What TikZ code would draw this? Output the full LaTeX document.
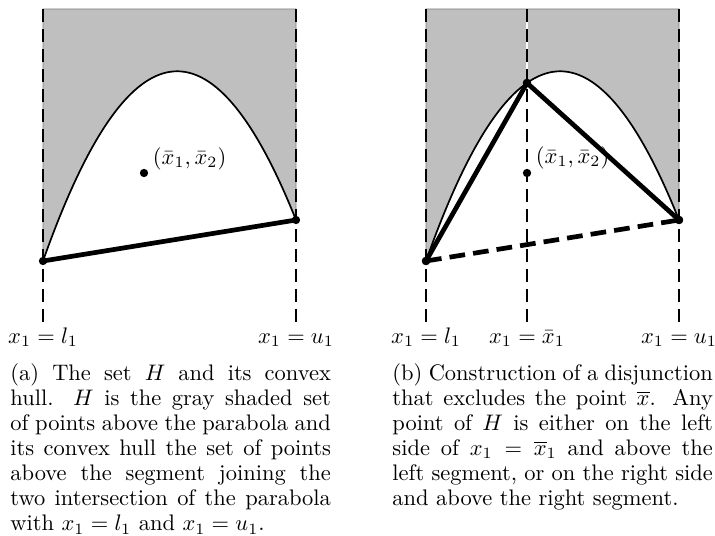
\documentclass[tikz,border=0pt]{standalone}

\tikzset{
  hull/.style={fill=gray!50, draw=gray, line width=0.4pt},
  bound/.style={line width=0.85pt, dash pattern=on 5.8pt off 3.1pt},
  parab/.style={line width=0.75pt},
  seg/.style={line width=2.1pt},
  ptdot/.style={circle, fill, inner sep=0pt, minimum size=3.7pt},
  capt/.style={anchor=north west, inner sep=0pt, text width=142.6pt, align=justify,
    font=\fontsize{10}{11.15}\selectfont},
}

\begin{document}
\begin{tikzpicture}[x=0.445pt, y=0.445pt]
    \useasboundingbox (0, 0) rectangle (715, 535);

    % (a) the set H and its hull
        \filldraw[hull] (43, 274) -- (43, 526) -- (296, 526) -- (296, 315)
            .. controls (211.67, 526.13) and (127.33, 512.47) .. (43, 274) -- cycle;
        \coordinate (ta) at (43, 526);
        \coordinate (ba) at (43, 213);
        \coordinate (tb) at (296, 526);
        \coordinate (bb) at (296, 213);
        \draw[bound] (ta) -- (ba);
        \draw[bound] (tb) -- (bb);
        \node[ptdot] (la) at (43, 274) {};
        \node[ptdot] (ua) at (296, 315) {};
        \draw[parab] (la.center) .. controls (127.33, 512.47) and (211.67, 526.13) .. (ua.center);
        \draw[seg] (la.center) -- (ua.center);
        \node[ptdot] (xa) at (144, 362) {};
        \node[anchor=west] (xla) at (145, 376) {$(\bar{x}_1, \bar{x}_2)$};

        \node[anchor=base] (lla) at (43, 192) {$x_1=l_1$};
        \node[anchor=base] (lua) at (296, 192) {$x_1=u_1$};

    % (b) the disjunction
        \filldraw[hull] (426, 274) -- (426, 526) -- (679, 526) -- (679, 315)
            .. controls (594.67, 526.13) and (510.33, 512.47) .. (426, 274) -- cycle;
        \coordinate (tc) at (426, 526);
        \coordinate (bc) at (426, 213);
        \coordinate (td) at (527, 526);
        \coordinate (bd) at (527, 213);
        \coordinate (te) at (679, 526);
        \coordinate (be) at (679, 213);
        \node[ptdot] (lb) at (426, 274) {};
        \node[ptdot] (mb) at (527, 452) {};
        \node[ptdot] (ub) at (679, 315) {};
        \draw[white, line width=1pt] (td) -- (mb.center);
        \draw[bound] (tc) -- (bc);
        \draw[bound] (td) -- (bd);
        \draw[bound] (te) -- (be);
        \draw[parab] (lb.center) .. controls (510.33, 512.47) and (594.67, 526.13) .. (ub.center);
        \draw[seg] (lb.center) -- (mb.center) -- (ub.center);
        \draw[seg, dash pattern=on 7pt off 3.6pt] (lb.center) -- (ub.center);
        \node[ptdot] at (lb) {};
        \node[ptdot] at (mb) {};
        \node[ptdot] at (ub) {};
        \node[ptdot] (xb) at (527, 362) {};
        \node[anchor=west] (xlb) at (528, 377) {$(\bar{x}_1, \bar{x}_2)$};

        \node[anchor=base] (llb) at (426, 192) {$x_1=l_1$};
        \node[anchor=base] (lmb) at (527, 192) {$x_1=\bar{x}_1$};
        \node[anchor=base] (lub) at (679, 192) {$x_1=u_1$};

    % captions
        \node[capt] (capa) at (10, 172) {\tolerance=10000 \hbadness=10000
            (a) The set $H$ and its convex\linebreak
            hull. $H$ is the gray shaded set\linebreak
            of points above the parabola and\linebreak
            its convex hull the set of points\linebreak
            above the segment joining the\linebreak
            two intersection of the parabola\linebreak
            with $x_1=l_1$ and $x_1=u_1$.};
        \node[capt] (capb) at (392, 172) {\tolerance=10000 \hbadness=10000
            (b) Construction of a disjunction\linebreak
            that excludes the point $\overline{x}$. Any\linebreak
            point of $H$ is either on the left\linebreak
            side of $x_1=\overline{x}_1$ and above the\linebreak
            left segment, or on the right side\linebreak
            and above the right segment.};
\end{tikzpicture}
\end{document}
